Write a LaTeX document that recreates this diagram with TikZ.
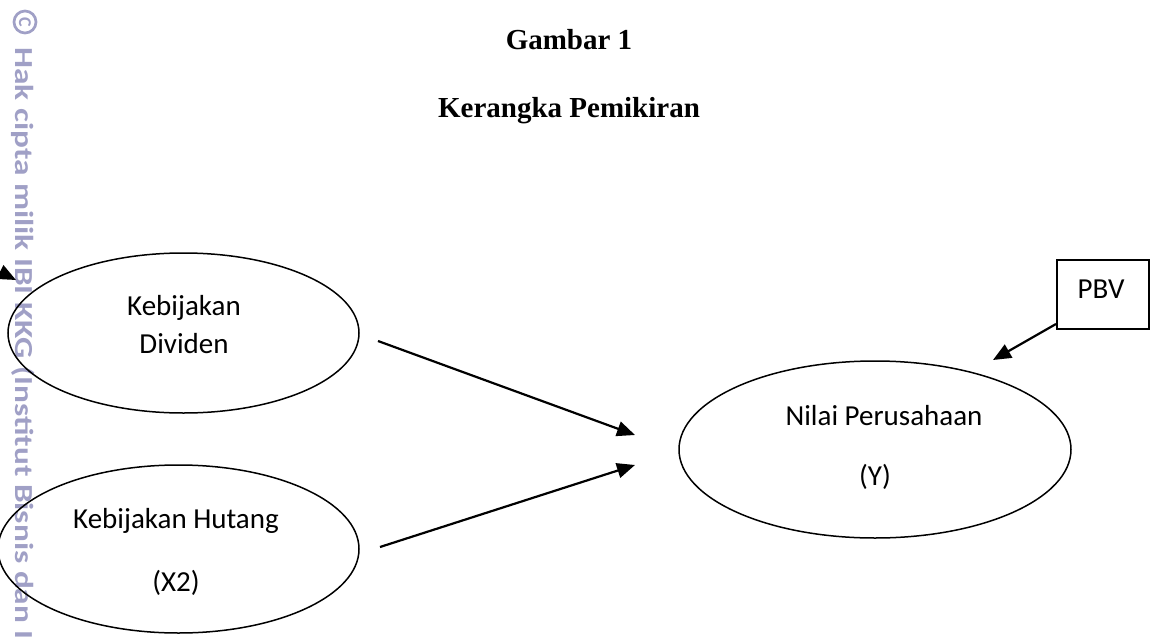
\documentclass[tikz,border=0pt]{standalone}
\usepackage{fontspec}
\setmainfont{Liberation Serif}
\newfontfamily\calfont{Carlito}
\usetikzlibrary{shapes.geometric,arrows.meta,calc}
\definecolor{wm}{RGB}{160,160,198}
\begin{document}
\begin{tikzpicture}[x=1pt,y=-1pt,
  oval/.style={ellipse,draw,line width=1.5pt,inner sep=0pt},
  lbl/.style={font=\calfont\fontsize{29}{35}\selectfont,anchor=base,inner sep=0pt},
  ttl/.style={font=\bfseries\fontsize{29}{35}\selectfont,anchor=base,inner sep=0pt},
  arr/.style={line width=2.2pt,-{Triangle[length=18pt,width=15pt]}},
  pbvbox/.style={draw,line width=2pt,rectangle,inner sep=0pt},
  wmtext/.style={text=wm,font=\calfont\bfseries\fontsize{26}{30}\selectfont,inner sep=0pt}
]
\useasboundingbox (0,0) rectangle (1152,640);
% watermark
\begin{scope}
\clip (0,0) rectangle (1152,640);
\node[circle,draw=wm,line width=2.7pt,minimum size=22pt,inner sep=0pt] (copy) at (25,22) {};
\node[wmtext,font=\calfont\bfseries\fontsize{18}{20}\selectfont,rotate=-90] (copyc) at (25,22) {C};
\node[wmtext,rotate=-90,xscale=1.28,anchor=base west] (wmark) at (16,47) {Hak cipta milik IBI KKG (Institut Bisnis dan I};
\end{scope}
% titles
\node[ttl] (g1) at (569,49) {Gambar 1};
\node[ttl] (g2) at (569,117) {Kerangka Pemikiran};
% ellipses
\node[oval,minimum width=351pt,minimum height=160pt] (e1) at (183.5,333) {};
\node[lbl] (t1a) at (184,315) {Kebijakan};
\node[lbl] (t1b) at (184,353) {Dividen};
\node[oval,minimum width=361pt,minimum height=168pt] (e2) at (178.5,549) {};
\node[lbl] (t2a) at (176,528) {Kebijakan Hutang};
\node[lbl] (t2b) at (176,591) {(X2)};
\node[oval,minimum width=392pt,minimum height=177pt] (e3) at (875,449.5) {};
\node[lbl] (t3a) at (884,425) {Nilai Perusahaan};
\node[lbl] (t3b) at (875,485) {(Y)};
% PBV
\node[pbvbox,minimum width=92pt,minimum height=69pt] (pbv) at (1103,294.5) {};
\node[lbl] (pbvt) at (1101,298) {PBV};
% arrows
\coordinate (s1) at (378,341);
\coordinate (h1) at (635,435);
\coordinate (s2) at (380,547);
\coordinate (h2) at (635,465);
\coordinate (h3) at (993,360);
\coordinate (s4) at (0,272);
\coordinate (h4) at (16,280);
\draw[arr] (s1) -- (h1);
\draw[arr] (s2) -- (h2);
\draw[arr] ([yshift=6pt]pbv.south west) -- (h3);
\draw[arr] (s4) -- (h4);
\end{tikzpicture}
\end{document}
